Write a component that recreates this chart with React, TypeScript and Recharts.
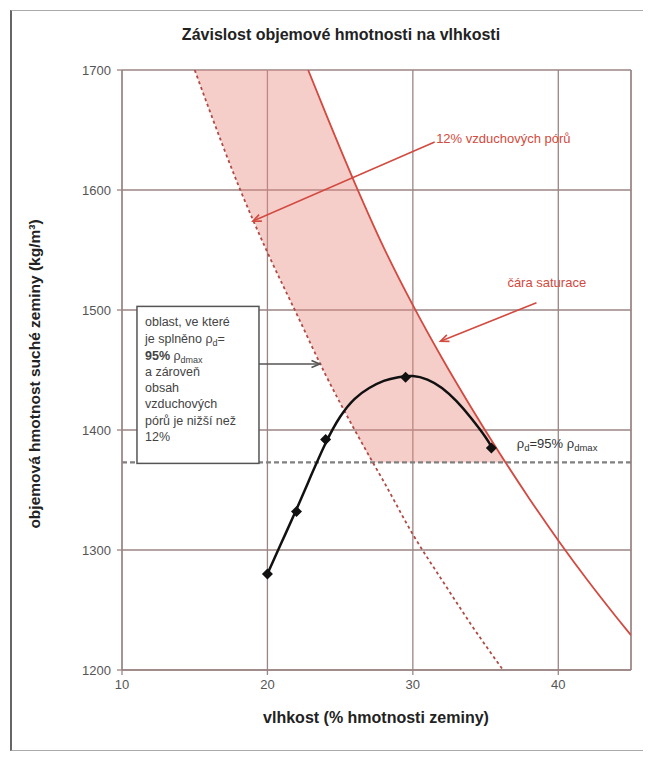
import React from 'react';
import {
  ComposedChart,
  XAxis,
  YAxis,
  CartesianGrid,
  Line,
  Area,
  Scatter,
  ReferenceLine,
  ReferenceDot,
} from 'recharts';

const FONT = '"Liberation Sans", Arial, sans-serif';
const GRID = '#9a8583';
const RED = '#d24a40';

const xTicks = [10, 20, 30, 40];
const yTicks = [1200, 1300, 1400, 1500, 1600, 1700];

// naměřené body (vlhkost %, rho_d kg/m3)
const measW = [20, 22, 24, 29.5, 35.4];
const measRho = [1280, 1332, 1392, 1444, 1385];

// proložená křivka
const fitW = [20, 21, 22, 23, 24, 25, 26, 27, 28, 29, 30, 31, 32, 33, 34, 35, 35.4];
const fitRho = [1280, 1307, 1334, 1362, 1389, 1411, 1426, 1435, 1441, 1444, 1445, 1442, 1435, 1424, 1410, 1394, 1386];

// čára saturace
const satW = [22.8, 24, 26, 28, 30, 32, 34, 36, 38, 40, 42, 44, 45];
const satRho = [1700, 1664, 1606, 1552, 1504, 1460, 1419, 1380, 1343, 1308, 1275, 1244, 1229];

// 12% vzduchových pórů
const airW = [15, 16, 18, 20, 22, 24, 26, 27.2, 28, 30, 32, 34, 36.2];
const airRho = [1700, 1667, 1604, 1548, 1497, 1446, 1400, 1374, 1357, 1313, 1275, 1238, 1200];

// vyšrafovaná oblast
const bandW = [15, 16, 18, 20, 22, 22.8, 24, 26, 27.2, 28, 30, 32, 34, 36, 36.4];
const bandLow = [1700, 1667, 1604, 1548, 1497, 1477, 1446, 1400, 1373, 1373, 1373, 1373, 1373, 1373, 1373];
const bandHigh = [1700, 1700, 1700, 1700, 1700, 1700, 1664, 1606, 1574, 1552, 1504, 1460, 1419, 1380, 1373];

const rhoLimit = 1373; // 95 % rho_dmax

type Row = { w: number; fit?: number; sat?: number; air?: number; band?: [number, number] };

const rows = new Map<number, Row>();
const row = (w: number) => {
  if (!rows.has(w)) rows.set(w, { w });
  return rows.get(w)!;
};
fitW.forEach((w, i) => (row(w).fit = fitRho[i]));
satW.forEach((w, i) => (row(w).sat = satRho[i]));
airW.forEach((w, i) => (row(w).air = airRho[i]));
bandW.forEach((w, i) => (row(w).band = [bandLow[i], bandHigh[i]]));
const table = Array.from(rows.values()).sort((a, b) => a.w - b.w);

const measured = measW.map((w, i) => ({ w, rho: measRho[i] }));

const Diamond = (p: any) => {
  const { cx, cy } = p;
  const s = 5.5;
  return <path d={`M${cx},${cy - s}L${cx + s},${cy}L${cx},${cy + s}L${cx - s},${cy}Z`} fill="#111" />;
};

const arrow = (color: string) => (p: any) => {
  const { x1, y1, x2, y2 } = p;
  const ang = Math.atan2(y2 - y1, x2 - x1);
  const L = 9;
  const a = 0.4;
  const ax = x2 - L * Math.cos(ang - a);
  const ay = y2 - L * Math.sin(ang - a);
  const bx = x2 - L * Math.cos(ang + a);
  const by = y2 - L * Math.sin(ang + a);
  return (
    <g>
      <line x1={x1} y1={y1} x2={x2} y2={y2} stroke={color} strokeWidth={1.6} />
      <polyline points={`${ax},${ay} ${x2},${y2} ${bx},${by}`} fill="none" stroke={color} strokeWidth={1.6} />
    </g>
  );
};

const NoteBox = (p: any) => {
  const { cx, cy } = p;
  return (
    <g transform={`translate(${cx},${cy})`} fontFamily={FONT} fontSize={12.5} fill="#444">
      <rect x={0} y={0} width={122} height={157} fill="#fff" stroke="#555" strokeWidth={1.5} />
      <text x={8} y={20}>oblast, ve které</text>
      <text x={8} y={37}>
        je splněno ρ<tspan fontSize={9} dy={3}>d</tspan>
        <tspan dy={-3}>=</tspan>
      </text>
      <text x={8} y={54}>
        <tspan fontWeight="bold">95%</tspan> ρ<tspan fontSize={9} dy={3}>dmax</tspan>
      </text>
      <text x={8} y={70}>a zároveň</text>
      <text x={8} y={86}>obsah</text>
      <text x={8} y={102}>vzduchových</text>
      <text x={8} y={119}>pórů je nižší než</text>
      <text x={8} y={135}>12%</text>
    </g>
  );
};

const textAt = (content: React.ReactNode, color: string) => (p: any) => (
  <text x={p.cx} y={p.cy} dy={5} fontFamily={FONT} fontSize={13} fill={color}>
    {content}
  </text>
);

export default function App() {
  return (
    <div style={{ position: 'relative', width: 643, height: 745, fontFamily: FONT }}>
      <div
        style={{
          position: 'absolute',
          left: 2,
          top: 2,
          width: 641,
          height: 741,
          borderLeft: '2px solid #666',
          borderTop: '1px solid #aaa',
          borderBottom: '1px solid #aaa',
          boxSizing: 'border-box',
        }}
      />
      <div
        style={{
          position: 'absolute',
          left: 333,
          top: 27,
          transform: 'translate(-50%, -50%)',
          fontWeight: 'bold',
          fontSize: 16,
          color: '#222',
          whiteSpace: 'nowrap',
        }}
      >
        Závislost objemové hmotnosti na vlhkosti
      </div>
      <div
        style={{
          position: 'absolute',
          left: 27,
          top: 366,
          transform: 'translate(-50%, -50%) rotate(-90deg)',
          fontWeight: 'bold',
          fontSize: 15.5,
          color: '#222',
          whiteSpace: 'nowrap',
        }}
      >
        objemová hmotnost suché zeminy (kg/m³)
      </div>
      <div
        style={{
          position: 'absolute',
          left: 368,
          top: 710,
          transform: 'translate(-50%, -50%)',
          fontWeight: 'bold',
          fontSize: 16,
          color: '#222',
          whiteSpace: 'nowrap',
        }}
      >
        vlhkost (% hmotnosti zeminy)
      </div>
      <div style={{ position: 'absolute', left: 0, top: 0 }}>
        <ComposedChart
          width={643}
          height={745}
          data={table}
          margin={{ top: 62, right: 20, bottom: 53, left: 54 }}
        >
          <CartesianGrid stroke={GRID} strokeWidth={1.3} />
          <XAxis
            dataKey="w"
            type="number"
            domain={[10, 45]}
            ticks={xTicks}
            allowDataOverflow
            height={30}
            stroke={GRID}
            strokeWidth={1.3}
            tickSize={5}
            tickMargin={5}
            tick={{ fill: '#555', fontSize: 13, fontFamily: FONT }}
          />
          <YAxis
            type="number"
            domain={[1200, 1700]}
            ticks={yTicks}
            allowDataOverflow
            width={60}
            stroke={GRID}
            strokeWidth={1.3}
            tickSize={5}
            tickMargin={6}
            tick={{ fill: '#555', fontSize: 13, fontFamily: FONT }}
          />
          <ReferenceLine x={45} stroke={GRID} strokeWidth={1.3} />
          <Area
            dataKey="band"
            type="linear"
            stroke="none"
            fill="#e88a80"
            fillOpacity={0.42}
            connectNulls
            isAnimationActive={false}
          />
          <ReferenceLine y={rhoLimit} stroke="#808080" strokeWidth={2.2} strokeDasharray="5 3" />
          <Line
            dataKey="air"
            type="monotone"
            stroke="#b04a44"
            strokeWidth={1.8}
            strokeDasharray="3 3"
            dot={false}
            connectNulls
            isAnimationActive={false}
          />
          <Line
            dataKey="sat"
            type="monotone"
            stroke={RED}
            strokeWidth={1.8}
            dot={false}
            connectNulls
            isAnimationActive={false}
          />
          <Line
            dataKey="fit"
            type="natural"
            stroke="#111"
            strokeWidth={2.5}
            dot={false}
            connectNulls
            isAnimationActive={false}
          />
          <Scatter data={measured} dataKey="rho" shape={Diamond} isAnimationActive={false} />
          <ReferenceDot x={11.03} y={1503} r={0} ifOverflow="visible" shape={NoteBox} />
          <ReferenceLine
            segment={[{ x: 19.35, y: 1455 }, { x: 23.6, y: 1455 }]}
            ifOverflow="visible"
            shape={arrow('#555')}
          />
          <ReferenceLine
            segment={[{ x: 31.5, y: 1640 }, { x: 19.0, y: 1574 }]}
            ifOverflow="visible"
            shape={arrow(RED)}
          />
          <ReferenceLine
            segment={[{ x: 38.5, y: 1506 }, { x: 31.9, y: 1474 }]}
            ifOverflow="visible"
            shape={arrow(RED)}
          />
          <ReferenceDot
            x={31.6}
            y={1643}
            r={0}
            ifOverflow="visible"
            shape={textAt('12% vzduchových pórů', RED)}
          />
          <ReferenceDot
            x={36.5}
            y={1523}
            r={0}
            ifOverflow="visible"
            shape={textAt('čára saturace', RED)}
          />
          <ReferenceDot
            x={37.15}
            y={1389}
            r={0}
            ifOverflow="visible"
            shape={textAt(
              <>
                ρ<tspan fontSize={9.5} dy={3}>d</tspan>
                <tspan dy={-3}>=95% ρ</tspan>
                <tspan fontSize={9.5} dy={3}>dmax</tspan>
              </>,
              '#333'
            )}
          />
        </ComposedChart>
      </div>
    </div>
  );
}
